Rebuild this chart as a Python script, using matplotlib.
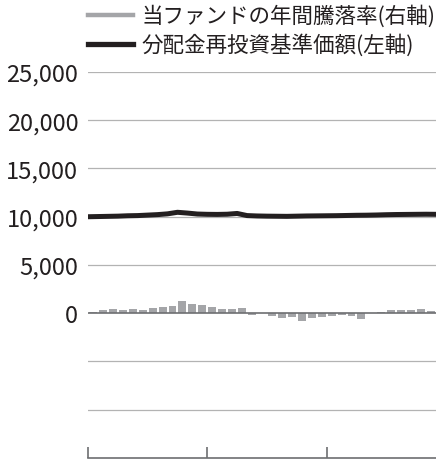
import numpy as np
import matplotlib
matplotlib.use("Agg")
import matplotlib.pyplot as plt
from matplotlib.lines import Line2D

plt.rcParams["font.family"] = ["Noto Sans CJK JP", "DejaVu Sans"]

# monthly rolling 1-year return of the fund (%), right axis
returns = [0.35, 0.6, 0.8, 0.6, 0.8, 0.75, 1.0, 1.3, 1.6, 2.55, 2.0, 1.7,
           1.3, 0.8, 0.8, 1.1, -0.27, 0.05, -0.55, -1.05, -0.85, -1.7, -0.95, -0.7,
           -0.48, -0.27, -0.55, -1.2, 0.07, 0.35, 0.6, 0.75, 0.75, 0.9, 0.55]

# NAV with dividends reinvested (yen), left axis
nav = [10000, 10020, 10040, 10060, 10100, 10120, 10170, 10220, 10300, 10460,
       10380, 10280, 10250, 10240, 10260, 10340, 10120, 10080, 10060, 10050,
       10040, 10060, 10080, 10090, 10100, 10110, 10130, 10150, 10160, 10180,
       10210, 10230, 10240, 10250, 10260, 10250]

left_ticks = [0, 5000, 10000, 15000, 20000, 25000]
left_labels = ["0", "5,000", "10,000", "15,000", "20,000", "25,000"]
grid_levels = [-10000, -5000, 5000, 10000, 15000, 20000, 25000]

colors = {
    "bar": "#a4a5a8",
    "line": "#231f20",
    "grid": "#b3b3b3",
    "zero": "#6d6e71",
    "text": "#231f20",
}

fig = plt.figure(figsize=(4.36, 4.64), dpi=100, facecolor="white")
ax = fig.add_axes([0.2018, 0.0108, 0.7982, 0.8319])
ax2 = ax.twinx()

n = len(returns)
ax.set_xlim(0, n)
ax.set_ylim(-15000, 25000)
ax2.set_ylim(-30, 50)

for lvl in grid_levels:
    ax.axhline(lvl, color=colors["grid"], lw=0.9, zorder=0)
ax.axhline(0, color=colors["zero"], lw=1.2, zorder=3)

x_bar = np.arange(n) + 0.5
ax2.bar(x_bar, returns, width=0.8, color=colors["bar"], zorder=2)

ax.set_zorder(ax2.get_zorder() + 1)
ax.patch.set_visible(False)
ax.plot(np.arange(len(nav)), nav, color=colors["line"], lw=3.6,
        solid_capstyle="round", zorder=4)

ax.set_yticks(left_ticks)
ax.set_yticklabels(left_labels, fontsize=17, color=colors["text"])
ax.tick_params(axis="y", length=0, pad=7)
ax.set_xticks([0, 12, 24])
ax.set_xticklabels([])
ax.tick_params(axis="x", direction="in", length=8, width=1.2,
               color=colors["zero"])
ax2.set_yticks([])

for a in (ax, ax2):
    for side in ["left", "right", "top"]:
        a.spines[side].set_visible(False)
ax.spines["bottom"].set_color(colors["zero"])
ax.spines["bottom"].set_linewidth(1.2)
ax2.spines["bottom"].set_visible(False)

# legend drawn in figure coordinates
fig.add_artist(Line2D([0.2018, 0.305], [0.9655, 0.9655], color=colors["bar"],
                      lw=3.2, transform=fig.transFigure))
fig.add_artist(Line2D([0.2018, 0.305], [0.903, 0.903], color=colors["line"],
                      lw=3.8, transform=fig.transFigure))
fig.text(0.325, 0.9655, "当ファンドの年間騰落率(右軸)", fontsize=15.5,
         color=colors["text"], va="center", ha="left")
fig.text(0.325, 0.903, "分配金再投資基準価額(左軸)", fontsize=15.5,
         color=colors["text"], va="center", ha="left")

fig.savefig("out.png", dpi=100, facecolor="white")
